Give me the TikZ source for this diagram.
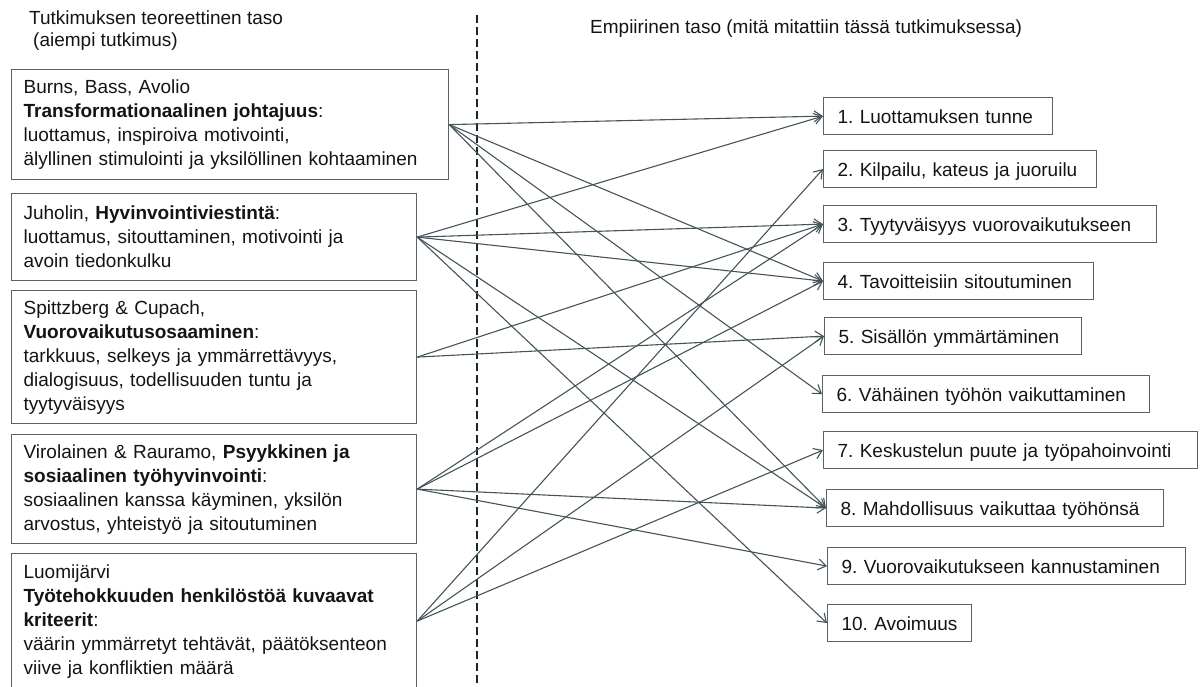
\documentclass[tikz,border=0pt]{standalone}
\usepackage{fontspec}
\setmainfont{Liberation Sans}
\usetikzlibrary{arrows.meta}
\definecolor{inkc}{HTML}{141414}
\definecolor{framec}{HTML}{59636A}
\definecolor{linkc}{HTML}{44555A}
\definecolor{dashc}{HTML}{1A262B}
\frenchspacing

\begin{document}
\begin{tikzpicture}[x=1pt,y=-1pt,
  every node/.style={font=\fontsize{19}{24}\selectfont, text=inkc},
  srcbox/.style={draw=framec, line width=1.2pt, anchor=north west, align=left,
    inner xsep=12pt, inner ysep=0pt},
  itembox/.style={draw=framec, line width=1.2pt, anchor=north west, align=left,
    inner xsep=14pt, inner ysep=0pt, minimum height=37pt,
    text height=14pt, text depth=0pt},
  link/.style={draw=linkc, line width=1.1pt,
    -{Straight Barb[length=8pt,width=11pt,line width=1.1pt]}},
  divider/.style={draw=dashc, line width=2.8pt, dash pattern=on 8pt off 4pt},
  heading/.style={anchor=base west, inner sep=0pt}
  ]
\useasboundingbox (0,0) rectangle (1203,686);

% column headings
\node[heading] (hl1) at (29,24) {Tutkimuksen teoreettinen taso};
\node[heading] (hl2) at (33,46) {(aiempi tutkimus)};
\node[heading] (hr) at (590,33) {Empiirinen taso (mitä mitattiin tässä tutkimuksessa)};

% dashed divider between the two levels
\coordinate (dtop) at (477,15);
\coordinate (dbot) at (477,690);
\draw[divider] (dtop) -- (dbot);

% theoretical sources
\node[srcbox, text width=413pt, minimum height=110pt] (b1) at (11,69)
  {Burns, Bass, Avolio\\
   \textbf{Transformationaalinen johtajuus}:\\
   luottamus, inspiroiva motivointi,\\
   älyllinen stimulointi ja yksilöllinen kohtaaminen};
\node[srcbox, text width=381pt, minimum height=87pt] (b2) at (11,193)
  {Juholin, \textbf{Hyvinvointiviestintä}:\\
   luottamus, sitouttaminen, motivointi ja\\
   avoin tiedonkulku};
\node[srcbox, text width=381pt, minimum height=133pt] (b3) at (11,290)
  {Spittzberg \& Cupach,\\
   \textbf{Vuorovaikutusosaaminen}:\\
   tarkkuus, selkeys ja ymmärrettävyys,\\
   dialogisuus, todellisuuden tuntu ja\\
   tyytyväisyys};
\node[srcbox, text width=381pt, minimum height=109pt] (b4) at (11,434)
  {Virolainen \& Rauramo, \textbf{Psyykkinen ja}\\
   \textbf{sosiaalinen työhyvinvointi}:\\
   sosiaalinen kanssa käyminen, yksilön\\
   arvostus, yhteistyö ja sitoutuminen};
\node[srcbox, text width=381pt, minimum height=135pt] (b5) at (11,553)
  {Luomijärvi\\
   \textbf{Työtehokkuuden henkilöstöä kuvaavat}\\
   \textbf{kriteerit}:\\
   väärin ymmärretyt tehtävät, päätöksenteon\\
   viive ja konfliktien määrä};

% measured items
\node[itembox, text width=201pt] (r1) at (823,97) {\mbox{1. Luottamuksen tunne}};
\node[itembox, text width=245pt] (r2) at (823,150) {\mbox{2. Kilpailu, kateus ja juoruilu}};
\node[itembox, text width=305pt] (r3) at (823,205) {\mbox{3. Tyytyväisyys vuorovaikutukseen}};
\node[itembox, text width=242pt] (r4) at (823,262) {\mbox{4. Tavoitteisiin sitoutuminen}};
\node[itembox, text width=229pt] (r5) at (824,317) {\mbox{5. Sisällön ymmärtäminen}};
\node[itembox, text width=299pt] (r6) at (822,375) {\mbox{6. Vähäinen työhön vaikuttaminen}};
\node[itembox, text width=346pt] (r7) at (823,431) {\mbox{7. Keskustelun puute ja työpahoinvointi}};
\node[itembox, text width=309pt] (r8) at (826,489) {\mbox{8. Mahdollisuus vaikuttaa työhönsä}};
\node[itembox, text width=330pt] (r9) at (827,547) {\mbox{9. Vuorovaikutukseen kannustaminen}};
\node[itembox, text width=116pt] (r10) at (827,604) {\mbox{10. Avoimuus}};

% links from theory to measured items
\draw[link] (b1.east) -- (r1.west);
\draw[link] (b1.east) -- (r4.west);
\draw[link] (b1.east) -- (r6.west);
\draw[link] (b1.east) -- (r8.west);

\draw[link] (b2.east) -- (r1.west);
\draw[link] (b2.east) -- (r3.west);
\draw[link] (b2.east) -- (r4.west);
\draw[link] (b2.east) -- (r8.west);
\draw[link] (b2.east) -- (r10.west);

\draw[link] (b3.east) -- (r3.west);
\draw[link] (b3.east) -- (r5.west);

\draw[link] (b4.east) -- (r3.west);
\draw[link] (b4.east) -- (r4.west);
\draw[link] (b4.east) -- (r8.west);
\draw[link] (b4.east) -- (r9.west);

\draw[link] (b5.east) -- (r2.west);
\draw[link] (b5.east) -- (r5.west);
\draw[link] (b5.east) -- (r7.west);
\end{tikzpicture}
\end{document}
